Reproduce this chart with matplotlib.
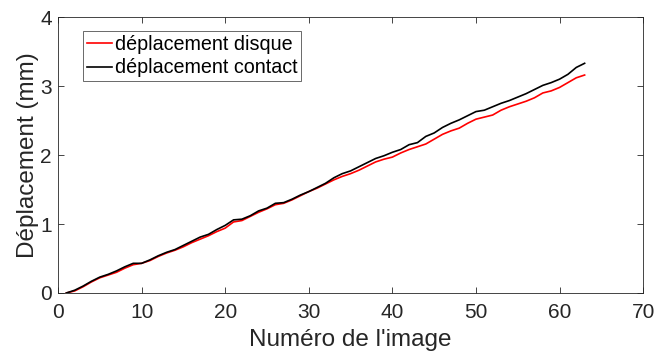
import matplotlib
matplotlib.use("Agg")
import matplotlib.pyplot as plt
import numpy as np

# --- DATA ---
images = np.arange(1, 64)

depl_disque = [
    0.00, 0.03, 0.09, 0.16, 0.22, 0.26, 0.30, 0.36, 0.41, 0.43,
    0.47, 0.53, 0.58, 0.62, 0.67, 0.73, 0.78, 0.83, 0.89, 0.94,
    1.03, 1.05, 1.11, 1.17, 1.22, 1.28, 1.30, 1.35, 1.41, 1.47,
    1.52, 1.58, 1.64, 1.69, 1.73, 1.78, 1.84, 1.90, 1.94, 1.97,
    2.03, 2.08, 2.12, 2.16, 2.23, 2.30, 2.35, 2.39, 2.46, 2.52,
    2.55, 2.58, 2.65, 2.70, 2.74, 2.78, 2.83, 2.90, 2.93, 2.98,
    3.05, 3.12, 3.16,
]

depl_contact = [
    0.00, 0.04, 0.10, 0.17, 0.23, 0.27, 0.32, 0.38, 0.43, 0.43,
    0.48, 0.54, 0.59, 0.63, 0.69, 0.75, 0.81, 0.85, 0.92, 0.98,
    1.06, 1.07, 1.12, 1.19, 1.23, 1.30, 1.31, 1.36, 1.42, 1.47,
    1.53, 1.59, 1.67, 1.73, 1.77, 1.83, 1.89, 1.95, 1.99, 2.04,
    2.08, 2.15, 2.18, 2.27, 2.32, 2.40, 2.46, 2.51, 2.57, 2.63,
    2.65, 2.70, 2.75, 2.79, 2.84, 2.89, 2.95, 3.01, 3.05, 3.10,
    3.17, 3.27, 3.33,
]

x_ticks = [0, 10, 20, 30, 40, 50, 60, 70]
y_ticks = [0, 1, 2, 3, 4]

# --- PLOT ---
plt.rcParams["font.family"] = ["Liberation Sans", "DejaVu Sans"]
axis_col = "#262626"
text_col = "#262626"

fig = plt.figure(figsize=(6.56, 3.56), dpi=100)
ax = fig.add_axes([0.0884, 0.177, 0.892, 0.775])

ax.plot(images, depl_disque, color="red", lw=1.2, label="déplacement disque")
ax.plot(images, depl_contact, color="black", lw=1.2, label="déplacement contact")

ax.set_xlim(0, 70)
ax.set_ylim(0, 4)
ax.set_xticks(x_ticks)
ax.set_yticks(y_ticks)
ax.tick_params(direction="in", length=4, width=0.6, colors=axis_col,
               labelsize=15, labelcolor=text_col, top=True, right=True)
ax.tick_params(axis="x", pad=7)
ax.tick_params(axis="y", pad=4.5)
for s in ax.spines.values():
    s.set_color(axis_col)
    s.set_linewidth(0.6)

ax.set_xlabel("Numéro de l'image", fontsize=17.5, color=text_col, labelpad=5)
ax.set_ylabel("Déplacement (mm)", fontsize=17.5, color=text_col, labelpad=1)

leg = ax.legend(loc="upper left", bbox_to_anchor=(0.043, 0.949), fontsize=14.2,
                frameon=True, fancybox=False, handlelength=1.25, handletextpad=0.15,
                borderpad=0.2, labelspacing=0.22, borderaxespad=0)
leg.get_frame().set_edgecolor(axis_col)
leg.get_frame().set_linewidth(0.6)

fig.savefig("out.png", dpi=100)
